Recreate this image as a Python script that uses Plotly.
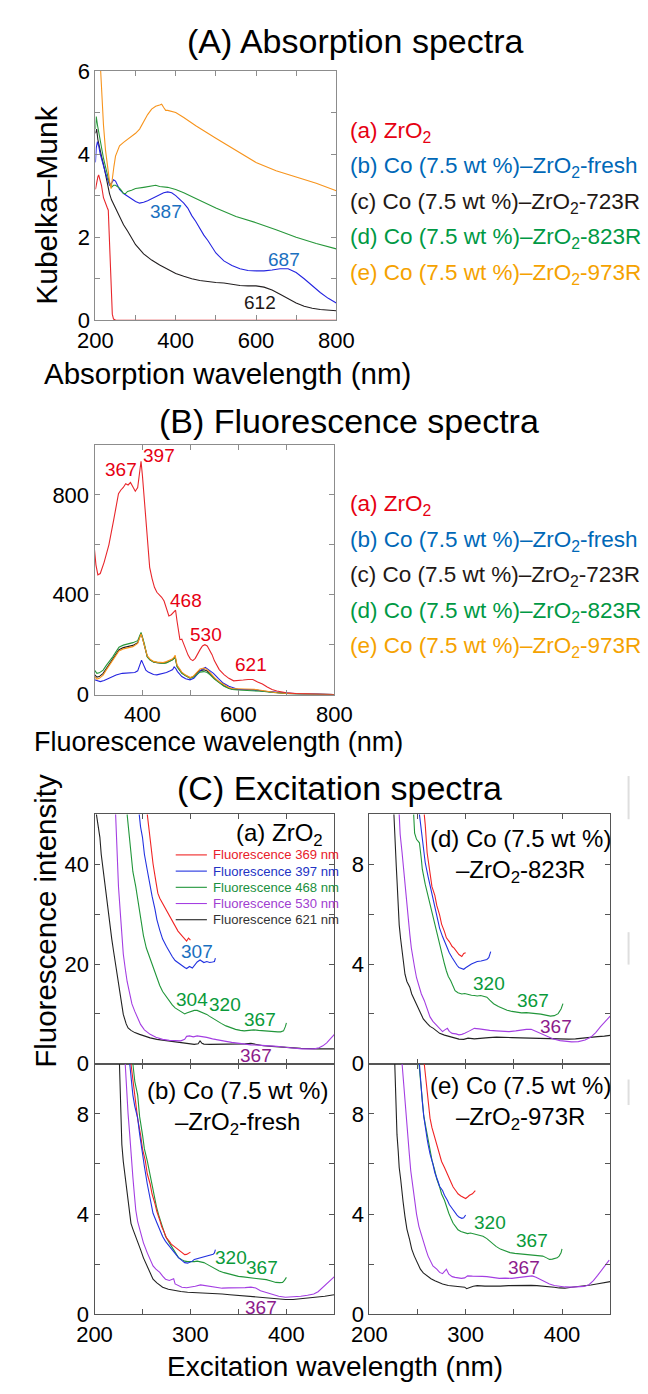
import plotly.graph_objects as go

# ---------------- (A) Absorption spectra: Kubelka-Munk vs wavelength (nm)
A_RED_X = [200, 203, 206, 208, 211, 215, 220, 225, 229, 232, 234, 236, 238, 240, 242, 245, 250, 300, 400, 500, 600, 700, 800]
A_RED_Y = [3.15, 3.35, 3.45, 3.5, 3.4, 3.25, 2.95, 2.8, 2.72, 2.65, 2.2, 1.7, 1.0, 0.45, 0.15, 0.03, 0.01, 0, 0, 0, 0, 0, 0]

A_BLUE_X = [200, 202, 205, 208, 212, 216, 220, 225, 230, 235, 240, 245, 250, 255, 260, 270, 280, 290, 300, 310,
            320, 330, 340, 350, 360, 370, 380, 390, 400, 410, 420, 430, 440, 450, 460, 470, 480, 490, 500, 520,
            540, 560, 580, 600, 620, 640, 660, 680, 700, 720, 740, 760, 780, 800]
A_BLUE_Y = [3.8, 4.15, 4.3, 4.2, 4.0, 3.85, 3.7, 3.55, 3.4, 3.25, 3.3, 3.38, 3.35, 3.25, 3.15, 3.05, 2.98, 2.92, 2.86, 2.82,
            2.84, 2.88, 2.93, 2.98, 3.03, 3.07, 3.09, 3.07, 3.0, 2.92, 2.82, 2.7, 2.52, 2.38, 2.2, 2.05, 1.92, 1.76, 1.62, 1.43,
            1.32, 1.24, 1.2, 1.19, 1.19, 1.21, 1.24, 1.24, 1.15, 1.0, 0.83, 0.67, 0.53, 0.42]

A_BLACK_X = [200, 203, 206, 210, 215, 220, 225, 230, 235, 240, 245, 250, 260, 270, 280, 290, 300, 320, 340, 360,
             380, 400, 420, 440, 460, 480, 500, 520, 540, 560, 580, 600, 620, 640, 660, 680, 700, 720, 740, 760, 780, 800]
A_BLACK_Y = [4.5, 4.6, 4.35, 4.2, 3.95, 3.75, 3.5, 3.3, 3.05, 2.9, 2.8, 2.68, 2.48, 2.3, 2.15, 1.98, 1.82, 1.6, 1.45, 1.33,
             1.22, 1.13, 1.06, 1.0, 0.96, 0.93, 0.91, 0.9, 0.87, 0.84, 0.83, 0.83, 0.8, 0.73, 0.63, 0.52, 0.42, 0.34, 0.29, 0.26, 0.24, 0.23]

A_GREEN_X = [200, 202, 205, 210, 215, 220, 225, 230, 235, 240, 245, 250, 255, 260, 265, 270, 275, 280, 290, 300,
             320, 340, 350, 360, 380, 400, 420, 450, 500, 550, 600, 650, 700, 750, 800]
A_GREEN_Y = [4.6, 4.9, 4.7, 4.4, 4.15, 3.9, 3.7, 3.5, 3.3, 3.2, 3.25, 3.25, 3.22, 3.18, 3.12, 3.05, 3.05, 3.1, 3.13, 3.17,
             3.2, 3.24, 3.25, 3.22, 3.2, 3.15, 3.07, 2.93, 2.7, 2.5, 2.35, 2.18, 2.0, 1.85, 1.72]

A_ORANGE_X = [200, 205, 210, 213, 216, 220, 225, 230, 235, 239, 242, 246, 250, 255, 260, 270, 280, 290, 300, 310,
              320, 330, 340, 350, 360, 365, 370, 375, 380, 400, 420, 450, 500, 550, 600, 650, 700, 750, 800]
A_ORANGE_Y = [8.0, 7.0, 6.3, 6.0, 5.4, 4.7, 4.1, 3.7, 3.35, 3.17, 3.35, 3.7, 3.95, 4.1, 4.2, 4.28, 4.35, 4.42, 4.5, 4.6,
              4.78, 4.95, 5.08, 5.15, 5.18, 5.2, 5.12, 5.05, 5.05, 5.0, 4.88, 4.68, 4.38, 4.08, 3.8, 3.6, 3.45, 3.3, 3.12]

A_PEAK_TEXT = ["387", "687", "612"]
A_PEAK_X = [377, 670, 611]
A_PEAK_Y = [2.63, 1.47, 0.43]

# ---------------- (B) Fluorescence spectra: intensity vs emission wavelength (nm)
B_RED_X = [300, 303, 307, 312, 320, 330, 340, 345, 350, 355, 360, 365, 370, 375, 380, 385, 390, 393, 397, 400,
           403, 407, 411, 415, 420, 425, 430, 440, 445, 450, 455, 460, 466, 469, 472, 475, 478, 482, 486, 490,
           495, 500, 505, 510, 515, 520, 525, 530, 535, 540, 545, 550, 560, 570, 580, 590, 600, 610, 620, 630,
           640, 650, 660, 670, 680, 700, 720, 750, 800]
B_RED_Y = [580, 520, 480, 485, 530, 600, 700, 760, 805, 820, 830, 845, 840, 850, 830, 815, 830, 880, 935, 875,
           800, 700, 600, 510, 465, 430, 410, 390, 375, 345, 315, 320, 335, 338, 295, 250, 220, 222, 200, 182,
           158, 142, 136, 145, 165, 180, 195, 200, 195, 180, 160, 135, 100, 80, 65, 55, 55, 58, 60, 60,
           50, 42, 30, 20, 14, 7, 4, 2, 0]

B_CO_X = [300, 305, 310, 318, 325, 330, 338, 345, 351, 360, 371, 380, 390, 394, 397, 400, 404, 410, 416, 423,
          430, 443, 450, 456, 462, 466, 468, 472, 477, 482, 490, 499, 505, 510, 515, 520, 528, 535, 541, 550,
          561, 570, 580, 587, 600, 613, 633, 650, 666, 680, 699, 720, 750, 800]
B_BLACK_Y = [80, 70, 72, 85, 105, 120, 142, 162, 180, 188, 193, 197, 208, 230, 245, 226, 198, 152, 139, 131,
             128, 126, 129, 133, 139, 146, 152, 114, 100, 87, 76, 67, 70, 78, 90, 96, 99, 94, 84, 65,
             48, 35, 26, 22, 20, 19, 19, 14, 10, 6, 4, 2, 1, 0]
B_GREEN_Y = [98, 85, 87, 98, 118, 130, 151, 172, 190, 198, 203, 208, 216, 235, 249, 230, 203, 151, 138, 131,
             128, 125, 127, 131, 138, 144, 150, 111, 98, 85, 75, 66, 68, 75, 85, 90, 92, 88, 79, 62,
             46, 33, 24, 20, 18, 17, 17, 13, 9, 6, 4, 2, 1, 0]
B_ORANGE_Y = [72, 62, 65, 78, 100, 115, 138, 158, 175, 183, 188, 192, 205, 228, 243, 225, 195, 155, 142, 133,
              130, 128, 132, 136, 142, 150, 158, 118, 103, 90, 78, 68, 72, 82, 95, 102, 106, 100, 88, 68,
              50, 38, 28, 24, 22, 22, 21, 16, 11, 7, 5, 3, 1, 0]

B_BLUE_X = [300, 305, 312, 320, 330, 338, 345, 358, 370, 384, 390, 394, 398, 402, 407, 412, 417, 423, 430, 440,
            450, 458, 463, 466, 469, 473, 477, 482, 490, 499, 507, 515, 522, 531, 538, 548, 558, 568, 580, 590,
            600, 613, 627, 640, 653, 670, 699, 731, 800]
B_BLUE_Y = [59, 55, 52, 56, 65, 72, 78, 85, 87, 88, 95, 115, 138, 120, 98, 90, 85, 80, 79, 82,
            88, 95, 100, 111, 105, 92, 82, 72, 63, 59, 65, 85, 98, 109, 100, 85, 65, 46, 33, 25,
            20, 20, 20, 17, 13, 10, 7, 2, 0]

B_PEAK_TEXT = ["367", "397", "468", "530", "621"]
B_PEAK_X = [356, 434.5, 491.5, 533, 627]
B_PEAK_Y = [902, 957, 379, 240, 119]

# ---------------- (C) Excitation spectra, one panel per sample
# (a) ZrO2
CA_RED_X = [255, 258, 261, 264, 266, 268, 271, 275, 278, 281, 284, 287, 291, 294, 296, 298, 300]
CA_RED_Y = [50, 45, 40.1, 36.5, 34.2, 33.2, 32.2, 30.8, 29.6, 28.6, 27.6, 26.6, 25.7, 25.0, 24.6, 25.2, 24.8]
CA_BLUE_X = [246.6, 248, 250, 252, 255, 258, 260, 263, 265, 268, 271, 275, 278, 281, 284, 288, 291, 294, 296, 299,
             302, 304, 307, 310, 314, 317, 320, 323, 325, 326]
CA_BLUE_Y = [50, 47.5, 45.4, 42, 38.8, 35.5, 33.6, 31, 28.9, 26.8, 25, 23.5, 22.4, 21.5, 20.7, 20.1, 19.7, 19.3, 19.1, 19.5,
             19.2, 19.7, 20.4, 20.8, 20.3, 20.5, 20.3, 20.4, 20.5, 21.2]
CA_GREEN_X = [234, 236, 238, 240, 243, 246, 248, 251, 254, 258, 261, 265, 268, 271, 275, 278, 281, 284, 288, 291,
              294, 296, 299, 301, 304, 307, 310, 314, 317, 320, 324, 327, 332, 337, 342, 347, 352, 356, 361, 366,
              371, 376, 381, 386, 391, 394, 397, 399, 400]
CA_GREEN_Y = [50, 46, 42, 38.5, 35.5, 32, 29.6, 25.7, 23.2, 21, 19.2, 17.1, 15.7, 14.5, 13.4, 12.5, 11.8, 11.2, 10.7, 10.2,
              10.0, 10.2, 10.4, 10.5, 10.7, 10.7, 10.5, 10.2, 9.9, 9.5, 9.0, 8.6, 8.1, 7.6, 7.2, 6.9, 6.7, 6.6, 6.7, 6.8,
              6.7, 6.6, 6.5, 6.4, 6.4, 6.4, 6.6, 7.5, 8.2]
CA_PURPLE_X = [222, 224, 225, 227, 228.5, 230, 232, 234, 237, 239, 242, 245, 248, 252, 258, 264, 271, 278, 284, 290,
               294, 296, 299, 303, 307, 312, 317, 323, 330, 337, 343, 350, 356, 363, 370, 377, 383, 390, 399, 407,
               416, 422, 429, 434, 438, 442, 446, 450]
CA_PURPLE_Y = [50, 40, 35.5, 30, 25.7, 22, 19.1, 16.5, 13.8, 12, 10.5, 9.0, 7.9, 6.8, 5.9, 5.3, 4.9, 4.7, 4.6, 4.6,
               4.9, 5.5, 5.6, 5.4, 5.6, 5.5, 5.3, 5.0, 4.7, 4.5, 4.3, 4.1, 3.9, 3.8, 3.75, 3.7, 3.6, 3.5, 3.3, 3.1,
               3.0, 3.0, 3.0, 3.2, 3.6, 4.2, 5.0, 5.9]
CA_BLACK_X = [202, 204, 205.6, 207, 209, 212, 215, 218, 220, 223, 225, 228, 230, 233, 235, 238, 242, 247, 251, 258,
              265, 271, 278, 285, 291, 298, 304, 308, 310, 312, 314, 320, 330, 340, 350, 357, 363, 370, 376, 385,
              399, 415, 432, 450]
CA_BLACK_Y = [50, 47, 45.4, 42, 38.8, 34, 28.9, 25, 22.4, 18.5, 15.8, 12, 9.9, 8.0, 7.2, 6.7, 6.25, 5.9, 5.6, 5.2,
              4.9, 4.75, 4.6, 4.45, 4.3, 4.1, 3.9, 4.0, 4.6, 4.1, 3.95, 3.9, 3.9, 3.9, 3.9, 4.0, 4.1, 3.9, 3.6, 3.5,
              3.3, 3.1, 3.0, 3.0]

# (d) Co (7.5 wt %)-ZrO2-823R
CD_RED_X = [257, 258, 260, 262, 263, 265, 268, 270, 273, 275, 278, 280, 283, 286, 288, 291, 293, 296, 298, 300]
CD_RED_Y = [10, 9.6, 8.46, 7.9, 7.5, 7.1, 6.75, 6.35, 5.96, 5.6, 5.3, 5.05, 4.9, 4.7, 4.64, 4.45, 4.38, 4.3, 4.42, 4.45]
CD_BLUE_X = [252, 253, 255, 257, 258, 261, 263, 266, 268, 271, 273, 276, 278, 281, 283, 286, 288, 291, 293, 296,
             298, 300, 302.5, 306, 309, 312, 316, 319, 322, 324, 326]
CD_BLUE_Y = [10, 9.7, 9.1, 8.4, 8.07, 7.5, 7.14, 6.6, 6.22, 5.75, 5.43, 5.1, 4.9, 4.6, 4.45, 4.25, 4.12, 3.95, 3.86, 3.8,
             3.79, 3.85, 3.92, 4.0, 4.05, 4.1, 4.12, 4.15, 4.18, 4.25, 4.5]
CD_GREEN_X = [246, 247, 249, 252, 254, 255, 258, 260, 263, 265, 268, 270, 273, 275, 278, 280, 282, 284.5, 287, 289,
              292, 296, 299, 302.5, 306, 309, 312, 315.6, 319, 322, 325, 329, 334, 338.5, 343, 348, 353, 358, 363, 368,
              373, 378, 383, 388, 392, 396, 399, 401]
CD_GREEN_Y = [10, 9.25, 9.0, 8.86, 8.2, 7.8, 7.2, 6.88, 6.3, 5.96, 5.5, 5.17, 4.75, 4.38, 4.0, 3.72, 3.5, 3.33, 3.1, 2.93,
              2.85, 2.8, 2.82, 2.78, 2.75, 2.74, 2.72, 2.74, 2.7, 2.67, 2.55, 2.41, 2.3, 2.21, 2.15, 2.1, 2.06, 2.04, 2.05, 2.04,
              2.01, 1.99, 1.95, 1.91, 1.93, 2.01, 2.2, 2.41]
CD_PURPLE_X = [231, 232, 234, 235.5, 237, 238.5, 240, 242, 243.6, 245, 247, 249, 252, 254, 257, 260, 263, 266, 270, 273,
               276, 278, 281, 283, 286, 290, 293, 296, 299, 304, 309, 314, 319, 325, 332, 338, 345, 352, 358, 363,
               368, 373, 378, 385, 391, 398, 404, 410, 417, 424, 430, 435, 440, 445, 450]
CD_PURPLE_Y = [10, 9.2, 8.46, 7.8, 7.14, 6.5, 5.83, 5.2, 4.64, 4.25, 3.86, 3.45, 3.07, 2.8, 2.54, 2.25, 1.88, 1.7, 1.55, 1.42,
               1.29, 1.35, 1.42, 1.3, 1.22, 1.2, 1.16, 1.18, 1.22, 1.32, 1.42, 1.4, 1.36, 1.34, 1.32, 1.3, 1.29, 1.32, 1.36, 1.38,
               1.38, 1.3, 1.22, 1.1, 0.99, 0.93, 0.89, 0.88, 0.89, 0.95, 1.07, 1.25, 1.49, 1.7, 1.91]
CD_BLACK_X = [225.5, 226, 227, 228, 229, 230, 231, 232.5, 234, 235.5, 237, 239, 242, 244, 247, 250, 253, 256, 260, 263,
              266.5, 270, 273, 278, 283, 288, 293, 298, 302.5, 309, 315.6, 324, 332, 340, 348, 357, 365, 373, 381, 388,
              394, 400, 407, 414, 420, 428, 437, 444, 450]
CD_BLACK_Y = [10, 9.4, 8.7, 7.9, 7.14, 6.3, 5.57, 5.0, 4.51, 4.0, 3.59, 3.3, 3.07, 2.8, 2.54, 2.25, 2.01, 1.8, 1.62, 1.5,
              1.42, 1.32, 1.22, 1.15, 1.09, 1.04, 0.99, 0.98, 1.03, 1.0, 1.03, 1.05, 1.07, 1.05, 1.05, 1.04, 1.03, 1.04, 1.03, 1.01,
              0.99, 0.98, 0.99, 1.0, 1.03, 1.05, 1.09, 1.11, 1.14]

# (b) Co (7.5 wt %)-ZrO2-fresh
CB_RED_X = [238, 240, 243, 245, 248, 250, 253, 255, 258, 260, 263, 265, 268, 270, 273, 275, 278, 280, 283, 285,
            287.5, 290, 292, 294, 296, 298, 300]
CB_RED_Y = [10, 9.3, 8.49, 7.8, 7.17, 6.6, 6.12, 5.6, 5.2, 4.8, 4.42, 4.1, 3.76, 3.5, 3.24, 3.05, 2.91, 2.8, 2.71, 2.65,
            2.58, 2.5, 2.45, 2.38, 2.39, 2.45, 2.48]
CB_BLUE_X = [236.7, 238, 240, 242, 245, 247, 250, 252, 255, 258, 261, 265, 268, 271, 274, 278, 281, 284, 287.5, 291,
             294, 297, 299, 302, 304, 307, 310.5, 314, 317, 320, 323.6, 325, 326]
CB_BLUE_Y = [10, 9.4, 8.75, 8.3, 7.83, 7.2, 6.52, 5.9, 5.2, 4.6, 4.03, 3.65, 3.37, 3.1, 2.91, 2.72, 2.58, 2.4, 2.26, 2.15,
             2.06, 2.04, 2.06, 2.12, 2.19, 2.22, 2.26, 2.28, 2.32, 2.35, 2.39, 2.45, 2.58]
CB_GREEN_X = [240, 242, 245, 247, 250, 252, 255, 258, 260, 262, 264.6, 267, 269.5, 272, 274, 278, 281, 284, 287.5, 291,
              294, 297, 300.7, 304, 307, 310, 314, 317, 320, 325, 330, 335, 340, 345, 350, 355, 360, 365, 369.5, 374,
              379, 384, 389, 393, 396, 398, 400]
CB_GREEN_Y = [10, 9.3, 8.75, 7.9, 7.17, 6.6, 6.12, 5.5, 5.08, 4.7, 4.29, 3.95, 3.63, 3.35, 3.11, 2.85, 2.65, 2.45, 2.26, 2.18,
              2.12, 2.1, 2.09, 2.1, 2.12, 2.1, 2.06, 2.0, 1.93, 1.83, 1.73, 1.66, 1.6, 1.55, 1.51, 1.49, 1.47, 1.45, 1.43, 1.4,
              1.38, 1.33, 1.27, 1.26, 1.27, 1.35, 1.47]
CB_PURPLE_X = [232, 233.4, 235, 236.7, 238, 240, 241.5, 243, 245, 248, 251, 255, 258, 261, 264, 268, 271, 274, 278, 281,
               282.5, 284, 287, 291, 296, 300.7, 305, 310.5, 315, 320, 326, 333, 340, 350, 357, 363, 368, 373, 380, 386,
               392, 399, 407, 415, 422, 428.5, 433, 438, 443, 448, 450]
CB_PURPLE_Y = [10, 8.88, 8.0, 7.17, 6.3, 5.47, 4.8, 4.16, 3.7, 3.24, 2.85, 2.45, 2.2, 1.93, 1.8, 1.67, 1.52, 1.4, 1.35, 1.4,
               1.42, 1.21, 1.15, 1.08, 1.06, 1.08, 1.12, 1.17, 1.14, 1.11, 1.08, 1.04, 1.05, 1.04, 1.06, 1.08, 1.05, 0.94, 0.85, 0.77,
               0.72, 0.68, 0.69, 0.72, 0.76, 0.81, 0.9, 1.08, 1.25, 1.4, 1.5]
CB_BLACK_X = [226, 227, 228.5, 230, 232, 233.5, 235, 236.5, 238, 240, 243, 245, 248, 251, 255, 258, 261, 265, 271, 277,
              284, 290, 297, 305, 317, 325, 333, 341, 350, 358, 366, 374, 383, 391, 399, 407, 415, 423, 432, 440,
              448, 450]
CB_BLACK_Y = [10, 8.3, 6.78, 6.1, 5.47, 4.9, 4.42, 4.0, 3.63, 3.4, 3.11, 2.85, 2.58, 2.25, 1.93, 1.65, 1.4, 1.25, 1.08, 1.0,
              0.94, 0.91, 0.88, 0.87, 0.85, 0.83, 0.81, 0.78, 0.75, 0.72, 0.68, 0.65, 0.62, 0.6, 0.59, 0.59, 0.62, 0.65, 0.68, 0.72,
              0.77, 0.78]

# (e) Co (7.5 wt %)-ZrO2-973R
CE_RED_X = [257, 258, 260, 262, 263, 265, 268, 270, 273, 275, 278, 280, 282.5, 285, 287, 290, 292, 295, 297, 300,
            302, 304, 307, 309, 310]
CE_RED_Y = [10, 9.6, 8.75, 8.2, 7.83, 7.45, 7.04, 6.7, 6.39, 6.1, 5.86, 5.65, 5.47, 5.25, 5.08, 4.92, 4.81, 4.72, 4.68, 4.62,
            4.68, 4.75, 4.81, 4.88, 4.94]
CE_BLUE_X = [252, 253, 255, 256.5, 258, 260, 261, 263, 266, 268, 271, 273, 276, 278, 281, 283, 286, 288, 291, 293,
             296, 298, 300]
CE_BLUE_Y = [10, 9.4, 8.49, 7.9, 7.44, 7.0, 6.78, 6.4, 5.99, 5.65, 5.34, 5.1, 4.94, 4.75, 4.55, 4.38, 4.22, 4.1, 3.96, 3.88,
             3.83, 3.85, 3.96]
CE_GREEN_X = [251.5, 253, 254, 255, 256.4, 258, 260, 262, 263, 265, 268, 270, 273, 275, 278, 280, 282.5, 285, 287, 290,
              292, 295, 299, 302, 305, 308, 312, 315, 318, 322, 325, 328, 331.5, 336, 341, 346, 351, 356, 361, 366,
              371, 376, 380, 384, 387, 390, 392, 395, 397, 399, 400]
CE_GREEN_Y = [10, 9.4, 8.88, 8.4, 7.96, 7.6, 7.17, 6.8, 6.52, 6.15, 5.73, 5.4, 5.08, 4.8, 4.55, 4.3, 4.03, 3.8, 3.63, 3.48,
              3.37, 3.3, 3.24, 3.22, 3.24, 3.2, 3.17, 3.14, 3.11, 3.02, 2.91, 2.8, 2.71, 2.6, 2.52, 2.46, 2.43, 2.41, 2.39, 2.37,
              2.35, 2.34, 2.32, 2.25, 2.19, 2.2, 2.22, 2.25, 2.32, 2.45, 2.61]
CE_PURPLE_X = [234, 235.5, 237, 238.5, 240, 241.5, 243, 245, 247, 249, 251.5, 254, 256.4, 259, 261, 264, 266, 270, 273, 276,
               278, 280, 282.5, 286, 289, 292, 295.6, 299, 302, 307, 312, 317, 322, 328, 335, 341, 348, 354, 361, 366,
               369, 373, 377, 382, 387, 392, 397, 403, 410, 417, 423, 428, 432.6, 437, 442, 446, 449]
CE_PURPLE_Y = [10, 9.2, 8.49, 7.7, 7.04, 6.4, 5.73, 5.1, 4.55, 4.0, 3.5, 3.15, 2.85, 2.55, 2.32, 2.1, 1.93, 1.8, 1.67, 1.62,
               1.72, 1.8, 1.6, 1.5, 1.47, 1.45, 1.43, 1.45, 1.53, 1.52, 1.53, 1.51, 1.5, 1.47, 1.43, 1.44, 1.43, 1.46, 1.5, 1.53,
               1.53, 1.48, 1.4, 1.3, 1.21, 1.15, 1.11, 1.09, 1.08, 1.09, 1.11, 1.18, 1.34, 1.55, 1.8, 2.0, 2.16]
CE_BLACK_X = [226.4, 227.5, 228.7, 230, 231, 232.5, 233.6, 235, 237, 239, 241.8, 244, 246.7, 250, 253, 256, 260, 264, 268, 272,
              276, 282, 289, 294, 299, 301, 302, 305, 308, 312, 320, 328, 336, 344.5, 352, 361, 368, 374, 381, 387,
              392, 397, 403, 410, 416, 423, 430, 436, 443, 449, 450]
CE_BLACK_Y = [10, 8.5, 7.17, 6.5, 5.86, 5.4, 4.94, 4.5, 3.9, 3.4, 2.98, 2.6, 2.32, 2.05, 1.8, 1.65, 1.53, 1.42, 1.34, 1.27,
              1.21, 1.15, 1.11, 1.09, 1.08, 1.02, 1.04, 1.08, 1.12, 1.14, 1.12, 1.11, 1.12, 1.14, 1.15, 1.17, 1.15, 1.14, 1.12, 1.11,
              1.08, 1.05, 1.04, 1.08, 1.1, 1.14, 1.17, 1.21, 1.25, 1.3, 1.3]

# Peak labels in the excitation panels: (panel, text, x, y, kind)
C_PEAKS = [
    ("a", "307", 307.3, 22.5, "blue"), ("a", "304", 301.4, 12.8, "green"), ("a", "320", 335.8, 11.8, "green"),
    ("a", "367", 372, 8.9, "green"), ("a", "367", 368, 1.6, "purple"),
    ("d", "320", 323.8, 3.22, "green"), ("d", "367", 369.6, 2.53, "green"), ("d", "367", 394, 1.51, "purple"),
    ("b", "320", 342.7, 2.27, "green"), ("b", "367", 374.5, 1.88, "green"), ("b", "367", 373, 0.28, "purple"),
    ("e", "320", 325.5, 3.65, "green"), ("e", "367", 369, 2.95, "green"), ("e", "367", 360.5, 1.88, "purple"),
]

SAMPLE_NAMES = ["(a) ZrO<sub>2</sub>",
                "(b) Co (7.5 wt %)–ZrO<sub>2</sub>-fresh",
                "(c) Co (7.5 wt %)–ZrO<sub>2</sub>-723R",
                "(d) Co (7.5 wt %)–ZrO<sub>2</sub>-823R",
                "(e) Co (7.5 wt %)–ZrO<sub>2</sub>-973R"]
EXC_NAMES = ["Fluorescence 369 nm", "Fluorescence 397 nm", "Fluorescence 468 nm",
             "Fluorescence 530 nm", "Fluorescence 621 nm"]

# ---------------- styling
FONT = "Liberation Sans, Arial, Helvetica, sans-serif"
W, H = 648, 1394

SAMPLE_TEXT = ["#e60012", "#0068b7", "#231815", "#009944", "#f5a200"]
AB_LINE = {"red": "#e8262b", "blue": "#2424e0", "black": "#231f20", "green": "#27973a", "orange": "#f7941d"}
C_LINE = {"red": "#f02424", "blue": "#2232e0", "green": "#21963a", "purple": "#a43ee2", "black": "#222222"}
C_LEGEND_TEXT = ["#e8202a", "#2233c4", "#1a9040", "#a040d0", "#333333"]
C_PEAK_COLOR = {"blue": "#1a70c0", "green": "#0a9a3a", "purple": "#8c1b8c"}


def px(x):
    return x / W


def py(y):
    return 1 - y / H


fig = go.Figure()


def add_line(xs, ys, color, n):
    suffix = "" if n == 1 else str(n)
    fig.add_trace(go.Scatter(x=xs, y=ys, mode="lines", line=dict(color=color, width=1.1),
                             xaxis="x" + suffix, yaxis="y" + suffix,
                             showlegend=False, hoverinfo="skip"))


# (A)
add_line(A_RED_X, A_RED_Y, AB_LINE["red"], 1)
add_line(A_BLACK_X, A_BLACK_Y, AB_LINE["black"], 1)
add_line(A_BLUE_X, A_BLUE_Y, AB_LINE["blue"], 1)
add_line(A_GREEN_X, A_GREEN_Y, AB_LINE["green"], 1)
add_line(A_ORANGE_X, A_ORANGE_Y, AB_LINE["orange"], 1)
# (B)
add_line(B_CO_X, B_BLACK_Y, AB_LINE["black"], 2)
add_line(B_BLUE_X, B_BLUE_Y, AB_LINE["blue"], 2)
add_line(B_CO_X, B_GREEN_Y, AB_LINE["green"], 2)
add_line(B_CO_X, B_ORANGE_Y, AB_LINE["orange"], 2)
add_line(B_RED_X, B_RED_Y, AB_LINE["red"], 2)

# (C) panels: axis index 3=(a), 4=(d), 5=(b), 6=(e)
C_SETS = {
    3: [(CA_BLACK_X, CA_BLACK_Y, "black"), (CA_PURPLE_X, CA_PURPLE_Y, "purple"), (CA_GREEN_X, CA_GREEN_Y, "green"),
        (CA_BLUE_X, CA_BLUE_Y, "blue"), (CA_RED_X, CA_RED_Y, "red")],
    4: [(CD_BLACK_X, CD_BLACK_Y, "black"), (CD_PURPLE_X, CD_PURPLE_Y, "purple"), (CD_GREEN_X, CD_GREEN_Y, "green"),
        (CD_BLUE_X, CD_BLUE_Y, "blue"), (CD_RED_X, CD_RED_Y, "red")],
    5: [(CB_BLACK_X, CB_BLACK_Y, "black"), (CB_PURPLE_X, CB_PURPLE_Y, "purple"), (CB_GREEN_X, CB_GREEN_Y, "green"),
        (CB_RED_X, CB_RED_Y, "red"), (CB_BLUE_X, CB_BLUE_Y, "blue")],
    6: [(CE_BLACK_X, CE_BLACK_Y, "black"), (CE_PURPLE_X, CE_PURPLE_Y, "purple"), (CE_GREEN_X, CE_GREEN_Y, "green"),
        (CE_BLUE_X, CE_BLUE_Y, "blue"), (CE_RED_X, CE_RED_Y, "red")],
}
for n, sets in C_SETS.items():
    for xs, ys, c in sets:
        add_line(xs, ys, C_LINE[c], n)


def axis(domain, rng, vals, texts, anchor, color):
    return dict(domain=domain, range=rng, anchor=anchor, tickmode="array", tickvals=vals, ticktext=texts,
                ticks="inside", ticklen=5, tickwidth=1, tickcolor=color, showline=True, linecolor=color,
                linewidth=1, mirror="ticks", showgrid=False, zeroline=False,
                tickfont=dict(family=FONT, size=22, color="black"))


GRAY_AB = "#8c8c8c"
GRAY_C = "#555555"

c_x_vals = [200, 250, 300, 350, 400, 450]
c_x_none = [""] * 6
c_x_lab = ["200", "", "300", "", "400", ""]
c_y_small = [0, 2, 4, 6, 8, 10]
c_y_small_lab = ["0", "", "4", "", "8", ""]

layout_axes = dict(
    xaxis=axis([px(82), px(337)], [200, 800], [200, 300, 400, 500, 600, 700, 800],
               ["200", "", "400", "", "600", "", "800"], "y", GRAY_AB),
    yaxis=axis([py(314), py(60)], [0, 6], [0, 1, 2, 3, 4, 5, 6], ["0", "", "2", "", "4", "", "6"], "x", GRAY_AB),
    xaxis2=axis([px(81), px(335)], [300, 800], [300, 400, 500, 600, 700, 800],
                ["", "400", "", "600", "", "800"], "y2", GRAY_AB),
    yaxis2=axis([py(695), py(441)], [0, 1000], [0, 200, 400, 600, 800, 1000],
                ["0", "", "400", "", "800", ""], "x2", GRAY_AB),
    xaxis3=axis([px(81), px(335)], [200, 450], c_x_vals, c_x_none, "y3", GRAY_C),
    yaxis3=axis([py(1071), py(817)], [0, 50], [0, 10, 20, 30, 40, 50], ["0", "", "20", "", "40", ""], "x3", GRAY_C),
    xaxis4=axis([px(372), px(627)], [200, 450], c_x_vals, c_x_none, "y4", GRAY_C),
    yaxis4=axis([py(1071), py(817)], [0, 10], c_y_small, c_y_small_lab, "x4", GRAY_C),
    xaxis5=axis([px(81), px(335)], [200, 450], c_x_vals, c_x_lab, "y5", GRAY_C),
    yaxis5=axis([py(1326), py(1071)], [0, 10], c_y_small, ["0", "", "4", "", "8", ""], "x5", GRAY_C),
    xaxis6=axis([px(372), px(627)], [200, 450], c_x_vals, c_x_lab, "y6", GRAY_C),
    yaxis6=axis([py(1326), py(1071)], [0, 10], c_y_small, c_y_small_lab, "x6", GRAY_C),
)

ann = []


def text_px(x, y, text, size, color="black", xanchor="center", yanchor="middle", angle=0, align="center"):
    ann.append(dict(x=px(x), y=py(y), xref="paper", yref="paper", text=text, showarrow=False,
                    xanchor=xanchor, yanchor=yanchor, textangle=angle, align=align,
                    font=dict(family=FONT, size=size, color=color)))


def text_data(n, x, y, text, color, size=19):
    suffix = "" if n == 1 else str(n)
    ann.append(dict(x=x, y=y, xref="x" + suffix, yref="y" + suffix, text=text, showarrow=False,
                    xanchor="center", yanchor="middle",
                    font=dict(family=FONT, size=size, color=color)))


# titles
text_px(357, 30, "(A) Absorption spectra", 34)
text_px(350, 416, "(B) Fluorescence spectra", 34)
text_px(340, 790, "(C) Excitation spectra", 34)

# axis titles
text_px(30, 197, "Kubelka–Munk", 30, angle=-90)
text_px(222, 368, "Absorption wavelength (nm)", 29.5)
text_px(212, 743, "Fluorescence wavelength (nm)", 27)
text_px(29, 925, "Fluorescence intensity", 29.5, angle=-90)
text_px(336, 1379, "Excitation wavelength (nm)", 28)

# sample legends for (A) and (B)
for base in (122, 502):
    for i, name in enumerate(SAMPLE_NAMES):
        text_px(349, base + i * 36.2, name, 22.5, color=SAMPLE_TEXT[i], xanchor="left")

# peak labels
A_PEAK_COLORS = ["#1a70c0", "#1a70c0", "#231815"]
for t, x, y, c in zip(A_PEAK_TEXT, A_PEAK_X, A_PEAK_Y, A_PEAK_COLORS):
    text_data(1, x, y, t, c)
for t, x, y in zip(B_PEAK_TEXT, B_PEAK_X, B_PEAK_Y):
    text_data(2, x, y, t, "#e60012")
PANEL_AXIS = {"a": 3, "d": 4, "b": 5, "e": 6}
for p, t, x, y, kind in C_PEAKS:
    text_data(PANEL_AXIS[p], x, y, t, C_PEAK_COLOR[kind])

# panel names in (C)
text_px(325, 838, "(a) ZrO<sub>2</sub>", 24, xanchor="right")
text_px(532, 859, "(d) Co (7.5 wt %)<br>–ZrO<sub>2</sub>-823R", 24)
text_px(232, 1116, "(b) Co (7.5 wt %)<br>–ZrO<sub>2</sub>-fresh", 24)
text_px(532, 1111, "(e) Co (7.5 wt %)<br>–ZrO<sub>2</sub>-973R", 24)

# legend of the excitation traces inside (a)
shapes = []
C_KEYS = ["red", "blue", "green", "purple", "black"]
for i, name in enumerate(EXC_NAMES):
    yy = 858.3 + i * 16.5
    shapes.append(dict(type="line", xref="paper", yref="paper", x0=px(167), x1=px(200), y0=py(yy), y1=py(yy),
                       line=dict(color=C_LINE[C_KEYS[i]], width=1.1)))
    text_px(204, yy, name, 13.1, color=C_LEGEND_TEXT[i], xanchor="left")

# faint edge marks along the right border
for y0, y1 in [(778, 822), (937, 970), (1087, 1113)]:
    shapes.append(dict(type="line", xref="paper", yref="paper", x0=px(646.5), x1=px(646.5), y0=py(y0), y1=py(y1),
                       line=dict(color="#dedede", width=2)))

fig.update_layout(width=W, height=H, margin=dict(l=0, r=0, t=0, b=0), paper_bgcolor="white",
                  plot_bgcolor="white", showlegend=False, annotations=ann, shapes=shapes, **layout_axes)

fig.write_html("out.html")
